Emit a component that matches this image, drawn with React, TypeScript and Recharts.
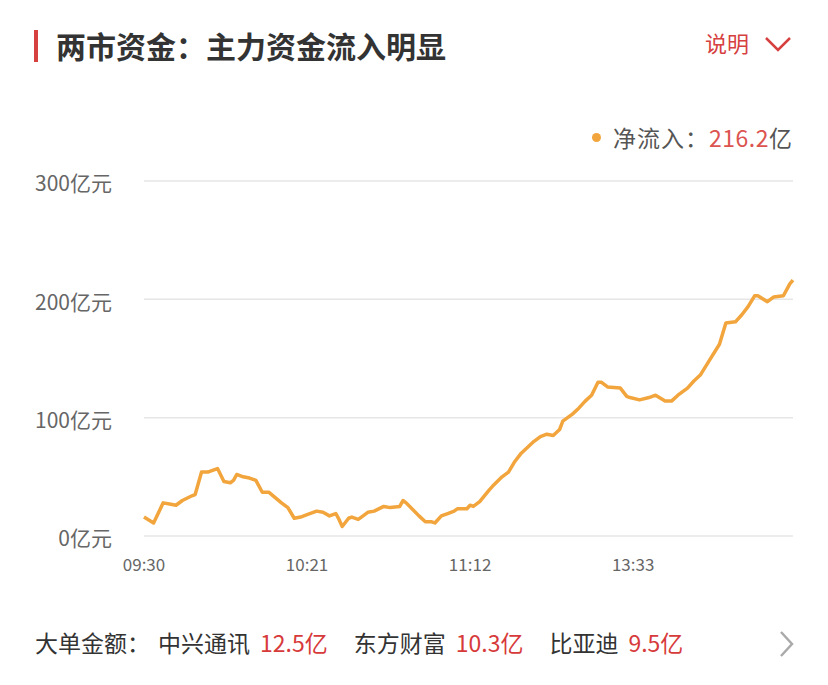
import React from 'react';
import { LineChart, Line, XAxis, YAxis, CartesianGrid } from 'recharts';

// minute index since 09:30 (lunch break skipped) and net inflow in 亿元
const minutes = [
  0, 3, 6, 8, 10, 12, 15, 16, 18, 20, 21, 23, 25, 27, 28, 29, 31, 33, 35, 37,
  39, 43, 45, 47, 49, 51, 54, 56, 58, 60, 61, 62, 64, 65, 67, 68, 70, 72, 75, 77,
  80, 81, 82, 86, 88, 90, 91, 93, 95, 97, 98, 101, 102, 103, 105, 108, 109, 112, 114, 116,
  118, 120, 122, 124, 126, 128, 130, 131, 134, 136, 138, 140, 142, 143, 145, 149, 151, 152, 155, 158,
  160, 163, 165, 167, 170, 172, 174, 177, 180, 182, 185, 187, 189, 191, 192, 195, 197, 200, 202, 203,
];
const netInflow = [
  16, 11, 28, 27, 26, 30, 34, 35, 54, 54, 55, 57, 46, 45, 47, 52, 50, 49, 47, 37,
  37, 28, 24, 15, 16, 18, 21, 20, 17, 19, 14, 8, 15, 16, 14, 16, 20, 21, 25, 24,
  25, 30, 28, 17, 12, 12, 11, 17, 19, 21, 23, 23, 26, 25, 29, 39, 42, 50, 54, 63,
  70, 75, 80, 84, 86, 85, 90, 97, 103, 108, 114, 119, 130, 130, 126, 125, 118, 117, 115, 117,
  119, 114, 114, 119, 125, 131, 136, 149, 162, 180, 181, 187, 194, 203, 203, 198, 202, 203, 213, 216.2,
];
const timeTicks = [0, 51, 102, 153];
const timeLabels = ['09:30', '10:21', '11:12', '13:33'];
const valueTicks = [0, 100, 200, 300];
const orderNames = ['中兴通讯', '东方财富', '比亚迪'];
const orderAmounts = ['12.5亿', '10.3亿', '9.5亿'];

const data = minutes.map((m, i) => ({ m, v: netInflow[i] }));

const FONT = '"Noto Sans CJK SC", "Noto Sans", sans-serif';
const RED = '#d6403f';
const ORANGE = '#f2a53c';

export default function App() {
  return (
    <div style={{ position: 'absolute', left: 0, top: 0, width: 828, height: 685, background: '#fff', fontFamily: FONT }}>
      {/* header */}
      <div style={{ position: 'absolute', left: 34, top: 30, width: 4, height: 32, background: RED }} />
      <div style={{ position: 'absolute', left: 56, top: 25, height: 40, lineHeight: '40px', fontSize: 30, fontWeight: 600, color: '#333' }}>
        两市资金：主力资金流入明显
      </div>
      <div style={{ position: 'absolute', left: 705, top: 25, height: 34, lineHeight: '34px', fontSize: 22, color: RED }}>说明</div>
      <svg style={{ position: 'absolute', left: 764, top: 35 }} width={28} height={18}>
        <polyline points="2,3 14,15 26,3" fill="none" stroke={RED} strokeWidth={2.5} />
      </svg>

      {/* legend */}
      <div style={{ position: 'absolute', right: 36, top: 120, height: 34, display: 'flex', alignItems: 'center', fontSize: 23, color: '#555' }}>
        <span style={{ width: 9, height: 9, borderRadius: 5, background: ORANGE, marginRight: 12 }} />
        <span style={{ letterSpacing: 1 }}>净流入：</span>
        <span style={{ color: '#dc5450', letterSpacing: 0.5 }}>{netInflow[netInflow.length - 1]}</span>
        <span>亿</span>
      </div>

      <div style={{ position: 'absolute', left: 0, top: 0 }}>
        <LineChart width={828} height={600} data={data} margin={{ top: 181, right: 35, bottom: 24, left: 0 }}>
          <CartesianGrid vertical={false} stroke="#e6e6e6" strokeWidth={1.5} />
          <XAxis
            dataKey="m"
            type="number"
            domain={[0, 203]}
            ticks={timeTicks}
            tickFormatter={(v: number) => timeLabels[timeTicks.indexOf(v)]}
            axisLine={false}
            tickLine={false}
            tickSize={0}
            tickMargin={23}
            height={40}
            tick={{ fill: '#666', fontSize: 17, fontFamily: FONT }}
          />
          <YAxis
            domain={[0, 300]}
            ticks={valueTicks}
            tickFormatter={(v: number) => `${v}亿元`}
            axisLine={false}
            tickLine={false}
            tickSize={0}
            tickMargin={32}
            width={144}
            tick={{ fill: '#666', fontSize: 21, fontFamily: FONT, dy: 3 }}
          />
          <Line
            type="linear"
            dataKey="v"
            stroke={ORANGE}
            strokeWidth={3.5}
            strokeLinejoin="round"
            dot={false}
            isAnimationActive={false}
          />
        </LineChart>
      </div>

      {/* footer */}
      <div style={{ position: 'absolute', left: 35, top: 625, height: 34, display: 'flex', alignItems: 'center', fontSize: 23, color: '#333' }}>
        <span style={{ marginRight: 8 }}>大单金额：</span>
        {orderNames.map((n, i) => (
          <span key={n} style={{ marginRight: 26 }}>
            {n}
            <span style={{ color: '#d73a3a', marginLeft: 10 }}>{orderAmounts[i]}</span>
          </span>
        ))}
      </div>
      <svg style={{ position: 'absolute', left: 778, top: 630 }} width={18} height={28}>
        <polyline points="3,2 14,14 3,26" fill="none" stroke="#aaa" strokeWidth={2.5} />
      </svg>
    </div>
  );
}
